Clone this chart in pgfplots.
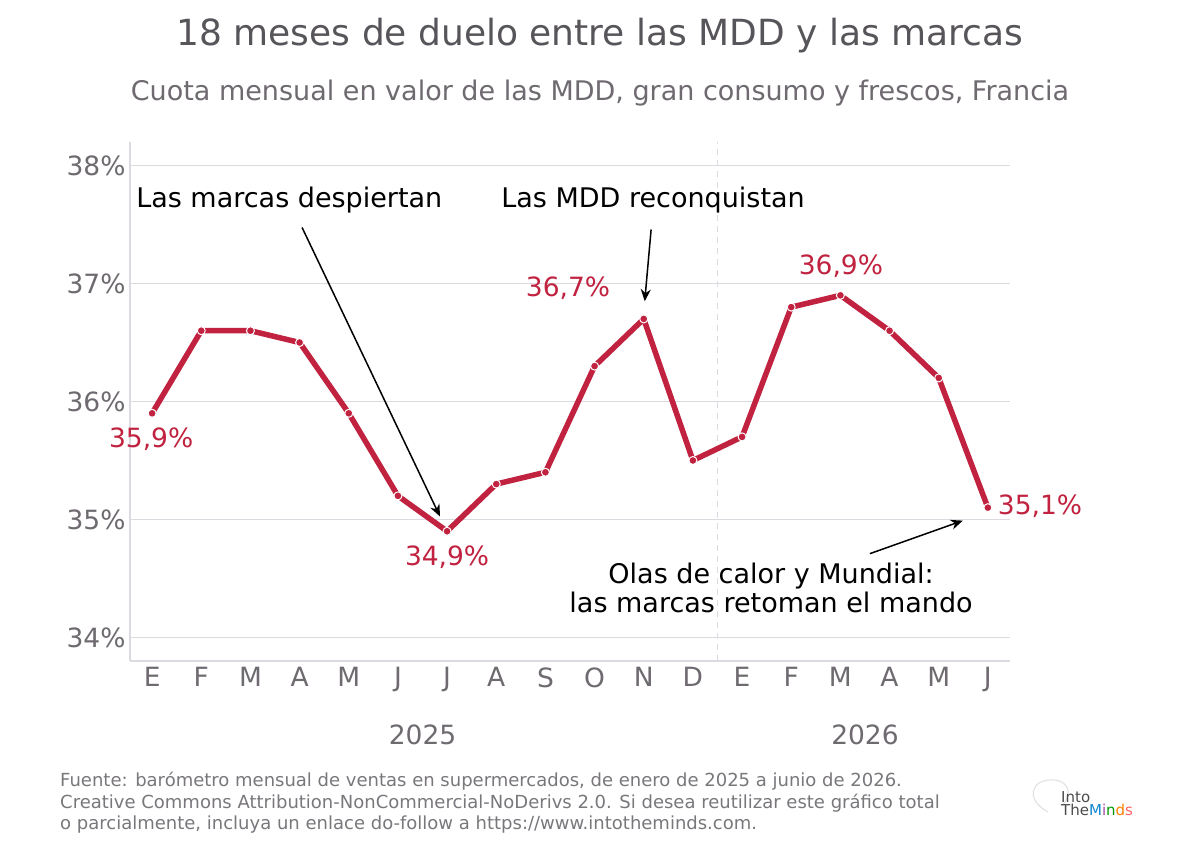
\documentclass[border=0pt]{standalone}
\usepackage{fontspec}
\setmainfont{DejaVu Sans}
\usepackage{pgfplots}
\pgfplotsset{compat=1.18}
\usetikzlibrary{arrows.meta}
\definecolor{crim}{HTML}{C0223F}
\definecolor{titlegray}{HTML}{58555A}
\definecolor{subgray}{HTML}{6E6A70}
\definecolor{tickgray}{HTML}{6E6A70}
\definecolor{gridgray}{HTML}{DCD9E0}
\definecolor{footgray}{HTML}{7A777C}
\newcommand{\fs}[1]{\fontsize{#1pt}{#1pt}\selectfont}
\begin{document}
\begin{tikzpicture}[x=1pt,y=1pt]
\path[use as bounding box, fill=white] (0,0) rectangle (1200,854);
% title
\node[text=titlegray, font=\fs{36}] at (600,854-36) {18 meses de duelo entre las MDD y las marcas};
\node[text=subgray, font=\fs{27}] at (600,854-93) {Cuota mensual en valor de las MDD, gran consumo y frescos, Francia};
\begin{axis}[
  at={(130pt,193pt)}, anchor=south west,
  scale only axis, width=880pt, height=519pt,
  xmin=-0.45, xmax=17.45, ymin=33.8, ymax=38.2,
  axis x line*=bottom, axis y line*=left,
  axis line style={draw=gridgray, line width=1.2pt, -},
  ytick={34,35,36,37,38},
  yticklabels={34\%,35\%,36\%,37\%,38\%},
  xtick={0,...,17},
  xticklabels={E,F,M,A,M,J,J,A,S,O,N,D,E,F,M,A,M,J},
  major tick length=0pt,
  ymajorgrids, grid style={draw=gridgray, line width=1.2pt},
  tick label style={font=\fs{26.5}, text=tickgray},
  yticklabel style={xshift=-1pt},
  xticklabel style={yshift=-3pt},
  clip=false,
]
\draw[gridgray, line width=1pt, dash pattern=on 6pt off 5pt] (axis cs:11.5,33.8) -- (axis cs:11.5,38.2);
\addplot[color=crim, line width=5.5pt, line join=round, mark=*, mark size=4pt,
  mark options={fill=crim, draw=white, line width=1pt}]
  coordinates {
  (0,35.9) (1,36.6) (2,36.6) (3,36.5) (4,35.9) (5,35.2) (6,34.9) (7,35.3) (8,35.4)
  (9,36.3) (10,36.7) (11,35.5) (12,35.7) (13,36.8) (14,36.9) (15,36.6) (16,36.2) (17,35.1)
  };
% data labels
\node[text=crim, font=\fs{26.5}] at (axis cs:-0.02,35.68) {35,9\%};
\node[text=crim, font=\fs{26.5}] at (axis cs:6,34.68) {34,9\%};
\node[text=crim, font=\fs{26.5}] at (axis cs:8.46,36.96) {36,7\%};
\node[text=crim, font=\fs{26.5}] at (axis cs:14.01,37.15) {36,9\%};
\node[text=crim, font=\fs{26.5}, anchor=west, inner sep=0pt] at (axis cs:17.2,35.11) {35,1\%};
% annotations
\node[font=\fs{27}] at (axis cs:2.79,37.71) {Las marcas despiertan};
\draw[line width=1.5pt, -{Stealth[length=12pt,width=10pt]}] (axis cs:3.05,37.475) -- (axis cs:5.856,35.025);
\node[font=\fs{27}] at (axis cs:10.19,37.71) {Las MDD reconquistan};
\draw[line width=1.5pt, -{Stealth[length=12pt,width=10pt]}] (axis cs:10.15,37.458) -- (axis cs:10.02,36.85);
\node[font=\fs{27}, align=center] at (axis cs:12.59,34.42) {Olas de calor y Mundial:\\[2pt]las marcas retoman el mando};
\draw[line width=1.5pt, -{Stealth[length=12pt,width=10pt]}] (axis cs:14.6,34.71) -- (axis cs:16.49,34.99);
% years
\node[text=tickgray, font=\fs{26.5}] at (axis cs:5.5,33.8) [yshift=-74pt] {2025};
\node[text=tickgray, font=\fs{26.5}] at (axis cs:14.5,33.8) [yshift=-74pt] {2026};
\end{axis}
% footer
\node[anchor=west, text=footgray, font=\fs{18}, inner sep=0pt] at (60,854-781) {Fuente: barómetro mensual de ventas en supermercados, de enero de 2025 a junio de 2026.};
\node[anchor=west, text=footgray, font=\fs{18}, inner sep=0pt] at (60,854-803) {Creative Commons Attribution-NonCommercial-NoDerivs 2.0. Si desea reutilizar este gráfico total};
\node[anchor=west, text=footgray, font=\fs{18}, inner sep=0pt] at (60,854-825) {o parcialmente, incluya un enlace do-follow a https://www.intotheminds.com.};
% logo
\draw[gray!25, line width=1pt] (1048,854-812) .. controls (1025,854-800) and (1030,854-778) .. (1055,854-780) .. controls (1070,854-782) and (1072,854-795) .. (1062,854-806);
\node[anchor=west, inner sep=0pt, font=\fs{15}, text=black!70] at (1061,854-797) {Into};
\node[anchor=west, inner sep=0pt, font=\fs{15}] at (1061,854-810) {\textcolor{black!70}{The}\textcolor{cyan!70!blue}{M}\textcolor{violet!70}{i}\textcolor{green!60!black}{n}\textcolor{orange}{d}\textcolor{red!60}{s}};
\end{tikzpicture}
\end{document}
